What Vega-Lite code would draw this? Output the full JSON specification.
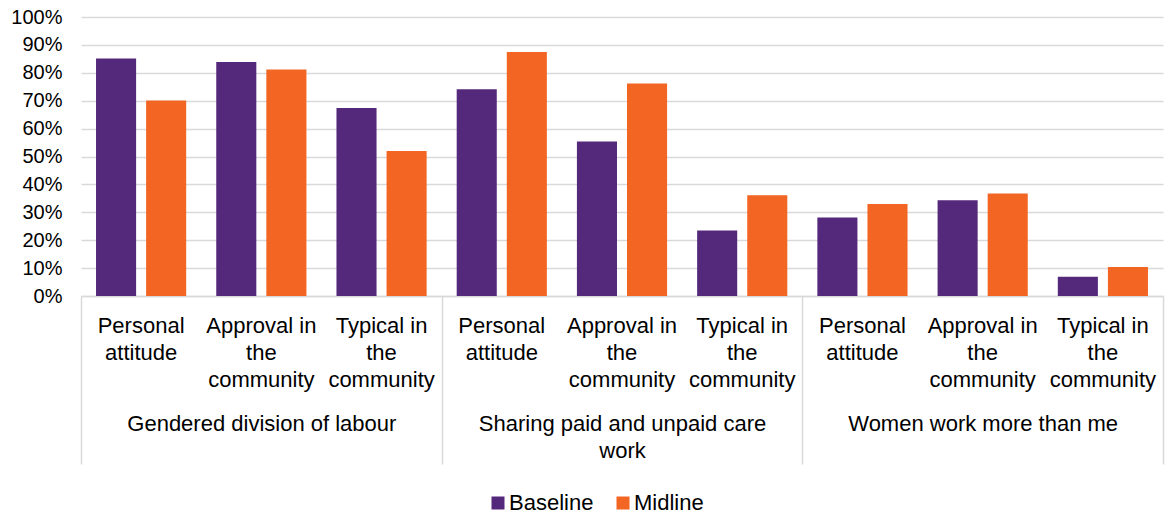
{
  "$schema": "https://vega.github.io/schema/vega-lite/v6.json",
  "autosize": "none",
  "width": 1082,
  "height": 279,
  "padding": {"left": 81, "top": 17, "right": 7, "bottom": 219},
  "background": "white",
  "config": {"view": {"stroke": null}, "font": "Liberation Sans"},
  "data": {"values": [
    {"group": "Gendered division of labour", "item": "1 Personal attitude", "series": "Baseline", "value": 0.851},
    {"group": "Gendered division of labour", "item": "1 Personal attitude", "series": "Midline", "value": 0.701},
    {"group": "Gendered division of labour", "item": "1 Approval in the community", "series": "Baseline", "value": 0.839},
    {"group": "Gendered division of labour", "item": "1 Approval in the community", "series": "Midline", "value": 0.812},
    {"group": "Gendered division of labour", "item": "1 Typical in the community", "series": "Baseline", "value": 0.674},
    {"group": "Gendered division of labour", "item": "1 Typical in the community", "series": "Midline", "value": 0.52},
    {"group": "Sharing paid and unpaid care work", "item": "2 Personal attitude", "series": "Baseline", "value": 0.741},
    {"group": "Sharing paid and unpaid care work", "item": "2 Personal attitude", "series": "Midline", "value": 0.875},
    {"group": "Sharing paid and unpaid care work", "item": "2 Approval in the community", "series": "Baseline", "value": 0.554},
    {"group": "Sharing paid and unpaid care work", "item": "2 Approval in the community", "series": "Midline", "value": 0.762},
    {"group": "Sharing paid and unpaid care work", "item": "2 Typical in the community", "series": "Baseline", "value": 0.235},
    {"group": "Sharing paid and unpaid care work", "item": "2 Typical in the community", "series": "Midline", "value": 0.361},
    {"group": "Women work more than me", "item": "3 Personal attitude", "series": "Baseline", "value": 0.281},
    {"group": "Women work more than me", "item": "3 Personal attitude", "series": "Midline", "value": 0.33},
    {"group": "Women work more than me", "item": "3 Approval in the community", "series": "Baseline", "value": 0.343},
    {"group": "Women work more than me", "item": "3 Approval in the community", "series": "Midline", "value": 0.367},
    {"group": "Women work more than me", "item": "3 Typical in the community", "series": "Baseline", "value": 0.069},
    {"group": "Women work more than me", "item": "3 Typical in the community", "series": "Midline", "value": 0.104}
  ]},
  "layer": [
    {
      "mark": {"type": "bar"},
      "encoding": {
        "x": {
          "field": "item", "type": "nominal", "sort": null,
          "scale": {"paddingInner": 0, "paddingOuter": 0},
          "axis": {
            "title": null, "labelAngle": 0, "ticks": false, "grid": false,
            "domainColor": "#d9d9d9", "domainWidth": 1.5,
            "labelFontSize": 22, "labelColor": "#000000", "labelPadding": 19,
            "labelLineHeight": 27, "labelBaseline": "top", "labelLimit": 0,
            "labelOverlap": false, "labelBound": false,
            "labelExpr": "indexof(datum.label,'Personal')>=0 ? ['Personal','attitude'] : indexof(datum.label,'Approval')>=0 ? ['Approval in','the','community'] : ['Typical in','the','community']"
          }
        },
        "xOffset": {
          "field": "series", "type": "nominal", "sort": ["Baseline", "Midline"],
          "scale": {"paddingInner": 0.2, "paddingOuter": 0.3}
        },
        "y": {
          "field": "value", "type": "quantitative",
          "scale": {"domain": [0, 1]},
          "axis": {
            "title": null, "format": ".0%",
            "values": [0, 0.1, 0.2, 0.3, 0.4, 0.5, 0.6, 0.7, 0.8, 0.9, 1],
            "domain": false, "ticks": false, "labelPadding": 19,
            "labelFontSize": 20, "labelColor": "#000000",
            "gridColor": "#d9d9d9", "gridWidth": 1.5
          }
        },
        "color": {
          "field": "series", "type": "nominal",
          "scale": {"domain": ["Baseline", "Midline"], "range": ["#54287a", "#f26522"]},
          "legend": {
            "orient": "none", "legendX": 406, "legendY": 475,
            "title": null, "direction": "horizontal",
            "labelFontSize": 22, "labelColor": "#000000",
            "symbolType": "square", "symbolSize": 169, "symbolStrokeWidth": 0,
            "columnPadding": 18, "labelOffset": 0
          }
        }
      }
    },
    {
      "mark": {"type": "bar", "opacity": 0},
      "encoding": {
        "x": {
          "field": "group", "type": "nominal", "sort": null,
          "scale": {"paddingInner": 0, "paddingOuter": 0},
          "axis": {
            "orient": "bottom", "title": null, "labelAngle": 0, "domain": false, "grid": false,
            "tickBand": "extent", "tickSize": 168, "tickColor": "#d9d9d9", "tickWidth": 1.5,
            "labelPadding": -51, "labelFontSize": 22, "labelColor": "#000000",
            "labelLineHeight": 27, "labelBaseline": "top", "labelLimit": 0,
            "labelOverlap": false, "labelBound": false,
            "labelExpr": "datum.label == 'Sharing paid and unpaid care work' ? ['Sharing paid and unpaid care','work'] : datum.label"
          }
        }
      }
    }
  ],
  "resolve": {"scale": {"x": "independent"}, "axis": {"x": "independent"}}
}
